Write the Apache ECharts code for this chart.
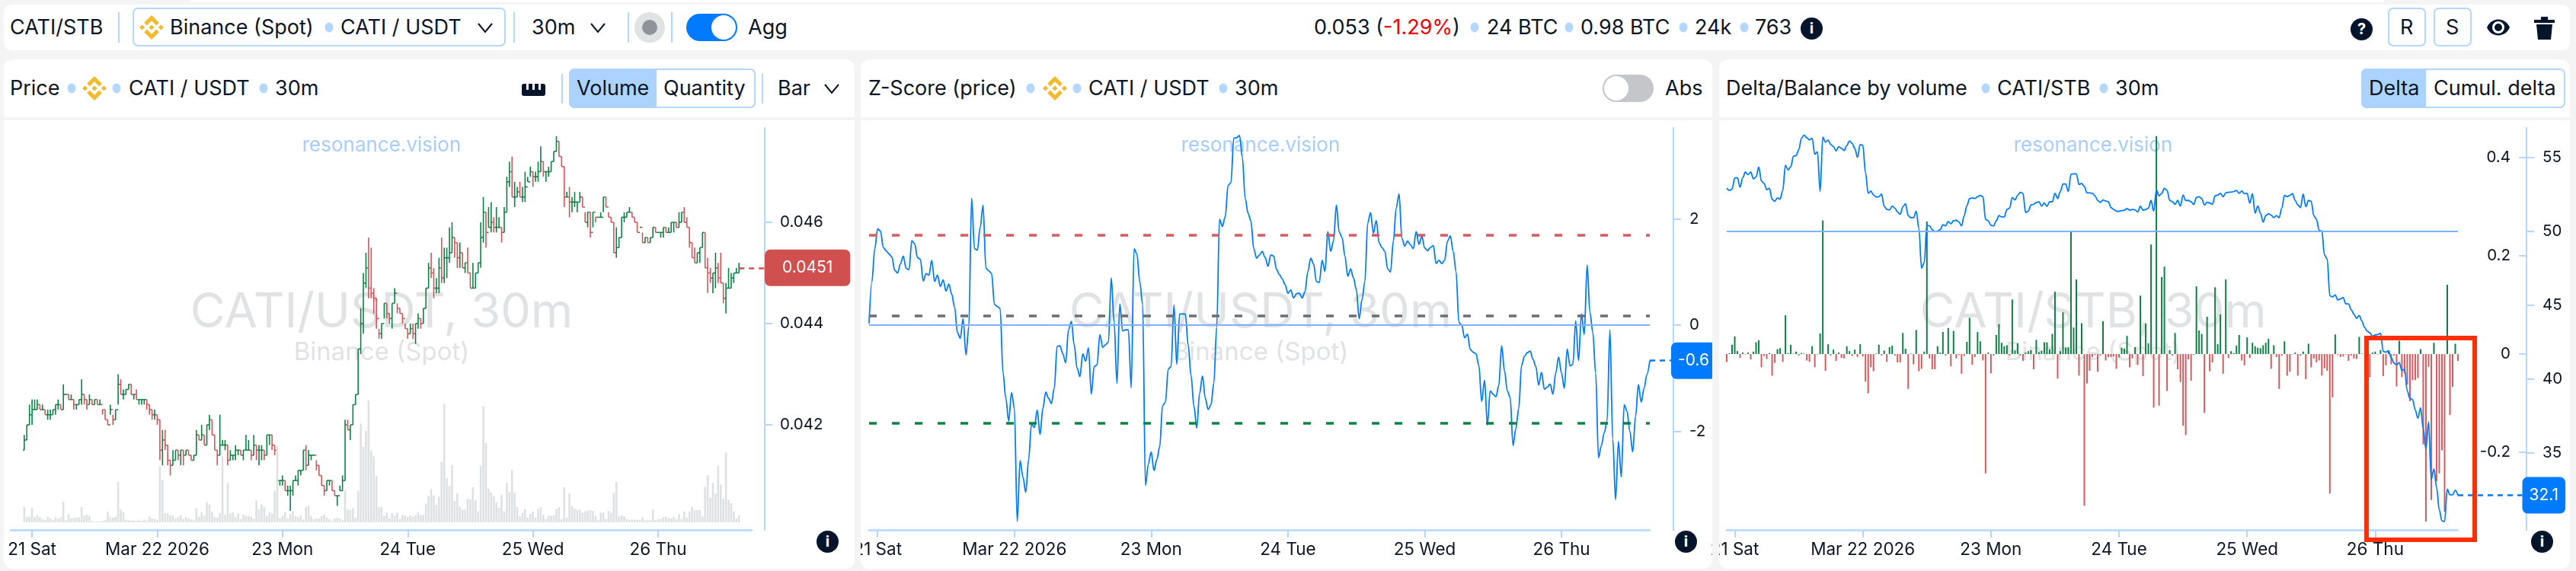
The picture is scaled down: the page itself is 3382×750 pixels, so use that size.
<!DOCTYPE html>
<html>
<head>
<meta charset="utf-8">
<title>CATI/STB</title>
<script src="https://cdn.jsdelivr.net/npm/echarts@6/dist/echarts.min.js"></script>
<style>
html, body { margin: 0; padding: 0; width: 3382px; height: 750px; overflow: hidden; background: #f4f4f5; font-family: Inter, sans-serif; color: #0c1524; }
.box { position: absolute; background: #fff; box-sizing: border-box; }
.t { position: absolute; font-size: 27px; line-height: 32px; white-space: nowrap; transform: translateY(-50%); }
.dot { position: absolute; width: 11px; height: 13px; border-radius: 50%; background: #b3d7ff; transform: translate(-50%, -50%); }
.sep { position: absolute; width: 2px; background: #b3d7ff; }
.ico { position: absolute; }
.round { position: absolute; border-radius: 50%; background: #04142b; color: #fff; font-weight: 700; font-size: 20px; text-align: center; }
#chart { position: absolute; left: 0; top: 0; width: 3382px; height: 750px; }
#mark { position: absolute; left: 3104px; top: 441px; width: 148px; height: 271px; border: 6px solid #ff2f00; box-sizing: border-box; }
</style>
</head>
<body>
<div id="chrome"></div>
<div id="chart"></div>
<div class="box" style="left:1122px;top:154px;width:8px;height:596px;background:#f4f4f5"></div>
<div class="box" style="left:2248px;top:154px;width:9px;height:596px;background:#f4f4f5"></div>
<div id="mark"></div>
<script>
// time axis, one point per 30m candle
var dayTicks = [3, 51, 99, 147, 195, 243]
var dayLabels = ['21 Sat', 'Mar 22 2026', '23 Mon', '24 Tue', '25 Wed', '26 Thu']

// price in 0.0001 units
var priceFirstOpen = 415
var priceHigh = [
  418,420,424,425,425,425,424,424,423,423, 423,423,424,425,424,428,426,426,426,425,
  424,425,429,426,425,426,425,425,425,425, 423,423,421,424,422,423,430,429,427,427,
  428,428,426,427,425,425,425,425,424,423, 423,422,421,419,419,416,413,415,415,415,
  415,415,415,415,414,414,419,418,420,418, 420,422,421,418,415,422,417,417,416,415,
  414,416,415,415,415,418,417,415,418,416, 416,416,415,418,418,418,416,415,409,410,
  409,408,408,409,410,411,411,415,416,415, 414,414,413,412,410,408,409,409,409,407,
  406,408,410,421,421,420,424,426,435,443, 450,454,457,455,447,445,439,440,444,444,
  442,444,447,444,443,442,440,439,440,440, 440,442,441,443,447,452,454,451,449,453,
  457,455,455,459,460,457,456,456,454,452, 455,450,452,450,452,460,465,462,463,464,
  461,463,461,459,463,469,472,473,468,467, 468,467,470,469,471,470,470,472,475,472,
  470,471,472,474,477,476,473,471,466,467, 465,466,464,466,465,462,462,462,462,461,
  461,462,465,465,462,461,460,459,457,461, 462,462,463,462,461,460,459,458,457,457,
  457,459,459,458,458,459,459,459,460,460, 460,462,462,463,461,459,456,455,454,455,
  458,458,453,451,450,454,452,454,448,448, 451,450,450,451,452]
var priceLow = [
  415,417,420,420,423,423,423,423,422,421, 421,422,422,423,423,423,426,425,425,423,
  423,424,424,424,423,424,424,424,424,424, 422,421,420,422,420,421,424,426,425,426,
  427,426,425,425,424,424,424,423,422,421, 421,420,413,412,415,412,410,412,413,413,
  412,412,414,414,413,413,414,417,417,416, 416,419,418,415,412,414,416,415,412,413,
  413,413,414,414,413,415,415,413,414,413, 412,413,413,414,416,415,414,401,408,408,
  407,406,403,406,409,408,410,411,411,412, 413,414,411,410,408,406,407,408,407,406,
  404,407,407,409,419,417,420,424,426,434, 438,447,445,445,442,439,437,437,441,441,
  440,439,444,442,442,440,439,437,438,437, 436,439,439,440,443,447,449,445,446,446,
  448,448,449,452,454,453,451,451,451,450, 450,447,447,447,450,451,456,455,459,458,
  458,458,459,456,458,462,467,465,463,465, 465,464,464,468,469,467,468,468,470,469,
  468,469,470,472,474,473,471,463,465,461, 462,463,462,464,463,460,459,457,459,460,
  461,461,462,463,461,460,454,453,455,457, 460,461,462,461,460,458,459,456,456,456,
  456,457,458,458,457,457,458,458,458,458, 459,459,460,460,459,455,453,452,452,452,
  455,451,446,448,446,447,448,448,444,442, 447,447,448,450,450]
var priceClose = [
  417,420,422,423,423,424,423,423,422,422, 422,423,424,424,423,426,426,425,425,424,
  424,425,426,425,424,425,424,425,424,424, 423,421,420,423,421,423,428,426,426,427,
  428,426,426,425,425,425,425,424,423,422, 422,421,415,417,416,413,412,413,415,414,
  415,414,415,414,413,414,418,417,418,416, 420,421,418,415,414,416,416,416,413,414,
  414,415,415,414,415,415,415,414,416,415, 415,415,414,418,418,416,415,409,409,409,
  407,407,407,409,409,411,411,415,412,414, 414,414,412,410,408,407,409,409,407,406,
  406,407,409,420,419,420,424,426,435,440, 448,451,447,446,445,441,438,440,444,442,
  441,444,446,443,442,441,439,438,439,438, 440,441,440,443,447,451,450,447,447,451,
  449,453,453,454,457,456,453,454,451,452, 450,447,447,450,452,457,462,458,459,460,
  459,459,459,458,462,468,470,465,465,466, 465,465,467,468,470,469,469,470,472,470,
  470,470,472,474,476,473,471,465,465,464, 464,464,464,465,463,460,462,458,462,461,
  461,461,465,463,461,460,454,455,457,461, 461,462,462,461,460,458,459,456,457,456,
  457,459,458,458,458,459,458,458,460,460, 459,460,462,460,459,456,453,452,454,455,
  458,451,450,449,450,451,449,448,445,447, 447,449,450,450,451]
var volume = [
  60,20,22,58,22,28,20,12,8,22, 15,8,20,15,20,80,8,32,15,18,
  18,20,60,26,30,25,5,3,3,3, 5,8,42,20,18,22,158,50,40,10,
  8,8,7,6,8,5,10,5,23,15, 14,8,222,167,35,35,27,27,15,20,
  28,12,20,15,12,8,55,22,40,28, 80,70,42,20,18,37,260,30,155,35,
  40,20,35,12,30,25,25,22,15,85, 50,70,60,25,40,35,125,300,15,25,
  40,15,32,42,25,20,28,10,60,65, 25,12,15,15,25,30,18,12,5,15,
  18,15,8,125,50,48,55,18,125,388, 298,360,480,283,260,183,60,60,26,38,
  15,36,28,38,13,28,26,20,26,22, 28,40,28,30,73,103,130,106,68,101,
  238,466,173,143,226,83,113,60,50,50, 93,90,138,86,43,223,456,313,133,118,
  103,78,58,108,43,156,120,206,116,60, 23,38,53,18,33,43,18,53,60,30,
  13,26,26,28,53,60,13,138,18,113, 63,53,48,50,38,43,45,48,45,26,
  8,38,38,13,45,38,116,160,23,28, 23,13,10,11,11,8,10,20,8,8,
  8,50,8,13,13,20,23,16,16,21, 13,33,13,43,18,43,61,48,48,48,
  23,140,186,98,155,113,223,148,93,275, 88,75,43,15,26]

var zScore = [
  0.03,0.82,1.44,1.81,1.77,1.46,1.40,1.34,1.28,1.03, 0.98,1.15,1.30,1.07,1.04,1.59,1.53,1.27,1.24,0.83,
  0.97,0.94,1.22,0.82,0.94,0.73,0.85,0.64,0.77,0.58, 0.34,-0.14,-0.25,0.12,-0.56,-0.04,2.39,1.44,1.41,1.84,
  2.26,1.07,1.02,0.97,0.39,0.35,0.31,-0.90,-1.38,-1.81, -1.27,-1.57,-3.70,-2.55,-2.86,-3.15,-2.53,-1.86,-1.93,-1.60,
  -2.06,-1.57,-1.26,-1.38,-1.48,-1.19,-0.40,-0.39,-0.54,-0.71, -0.09,0.07,-0.38,-0.81,-0.97,-0.54,-0.68,-0.43,-1.30,-0.78,
  -0.75,-0.18,-0.42,-0.37,-0.32,0.89,0.05,-1.10,0.40,-0.11, -0.09,-0.09,-1.18,1.44,1.34,0.82,0.39,-3.02,-2.62,-2.39,
  -2.74,-2.53,-2.29,-1.52,-1.45,-0.83,-0.78,0.38,-0.74,0.21, 0.21,0.21,-0.38,-0.95,-1.52,-1.94,-1.29,-0.96,-1.38,-1.59,
  -1.50,-1.09,-0.04,1.99,1.86,2.04,2.63,2.68,3.52,3.53, 3.57,3.16,2.39,2.11,1.96,1.44,1.26,1.32,1.39,1.27,
  1.11,1.32,1.30,1.05,0.95,0.87,0.76,0.60,0.66,0.51, 0.59,0.60,0.51,0.63,1.01,1.26,1.15,0.82,0.80,1.22,
  1.01,1.76,1.39,1.58,2.26,1.75,1.65,1.30,0.92,1.06, 0.89,0.67,0.12,0.48,0.82,1.92,2.12,1.73,1.97,1.55,
  1.46,1.39,1.06,1.00,1.58,2.20,2.47,1.63,1.49,1.58, 1.51,1.44,1.76,1.52,1.67,1.45,1.40,1.46,1.50,1.16,
  1.22,1.16,1.22,1.58,1.68,1.39,1.01,0.05,0.00,-0.24, -0.17,-0.46,-0.51,-0.54,-0.76,-1.44,-1.04,-1.88,-1.24,-1.30,
  -1.35,-1.14,-0.39,-0.86,-1.24,-1.36,-2.27,-1.95,-1.57,-0.76, -0.59,-0.52,-0.49,-0.64,-0.78,-1.13,-0.89,-1.21,-1.17,-1.11,
  -1.30,-0.90,-0.60,-0.90,-1.19,-0.45,-0.77,-0.74,0.08,-0.67, 0.21,-0.18,1.13,0.24,-0.14,-0.90,-2.50,-2.27,-2.03,-1.81,
  -0.09,-2.15,-3.29,-2.19,-2.86,-1.50,-1.62,-2.00,-2.39,-1.72, -1.12,-1.45,-1.19,-0.93,-0.67]
var zScoreLevels = { upper: 1.70, mean: 0.17, lower: -1.84 }

var balance = [
  52.92,52.78,52.87,53.61,53.64,52.99,53.64,54.02,53.85,54.02, 53.56,53.69,54.36,53.42,53.25,52.83,52.92,52.18,52.04,52.27,
  52.18,52.78,54.47,54.16,54.38,55.10,55.14,55.53,56.31,56.53, 56.34,56.19,56.31,55.22,55.39,52.70,56.39,56.05,56.19,55.88,
  55.74,55.45,55.74,55.62,55.48,55.82,56.13,55.96,55.62,55.02, 55.88,55.84,53.99,52.58,52.73,52.47,52.32,52.35,52.53,51.70,
  51.49,51.46,51.72,51.58,51.32,51.15,51.67,51.87,51.07,50.93, 50.93,51.37,50.21,47.51,47.89,50.41,50.38,50.12,49.98,50.03,
  50.12,50.46,50.38,50.67,50.52,50.72,50.76,50.64,50.38,51.07, 51.75,52.22,52.27,52.23,52.35,52.44,52.35,50.81,50.72,50.41,
  50.38,50.72,51.07,50.98,50.98,51.49,51.58,52.30,52.13,52.44, 52.65,52.58,51.27,51.37,51.79,51.84,51.96,52.01,51.72,51.92,
  51.70,52.01,52.01,52.58,52.23,52.70,53.21,53.21,52.70,53.87, 53.90,53.90,53.18,53.25,53.04,52.61,52.61,52.58,52.41,52.10,
  51.96,52.13,52.06,52.01,51.61,51.49,51.37,51.36,51.41,51.44, 51.55,51.44,51.49,51.46,51.32,51.70,51.44,51.49,51.58,52.10,
  51.37,52.82,52.41,52.58,52.92,52.78,52.10,52.01,51.84,52.10, 51.72,52.47,52.10,52.10,52.01,51.82,52.30,52.35,52.22,51.79,
  51.98,51.92,51.84,52.41,52.47,52.58,52.35,52.61,52.65,52.66, 52.70,52.78,52.58,52.73,52.56,52.58,51.92,52.56,51.24,51.72,
  51.24,50.64,51.07,51.20,51.10,50.94,51.07,50.93,51.58,52.44, 52.35,52.44,52.56,52.10,51.79,51.61,52.53,51.67,52.10,52.04,
  51.07,50.81,50.07,50.03,48.40,48.14,45.65,45.57,45.70,45.36, 45.43,45.52,45.09,45.09,44.71,44.40,44.11,44.31,43.94,43.51,
  43.25,43.13,42.90,42.99,43.02,43.11,41.87,41.82,41.92,41.44, 41.10,40.96,41.13,40.58,40.67,39.21,38.70,38.61,37.92,37.35,
  38.06,36.63,35.26,37.10,33.20,33.92,32.68,31.15,30.40,30.36, 32.55,32.17,32.17,32.48,32.13]
var delta = [
  -.016,.002,.019,.036,.006,-.008,.003,-.001,.003,-.011, .005,.024,.028,-.027,-.004,-.010,.002,-.044,-.018,.010,
  .012,-.016,.079,.002,.019,.001,.005,-.003,.002,.001, -.013,-.016,.016,-.027,-.001,.042,.272,-.034,.020,-.003,
  .009,-.014,.003,-.008,-.009,.016,.006,-.004,.009,-.006, .020,-.005,-.056,-.080,-.027,-.035,.001,.019,-.003,.007,
  -.016,.014,.017,-.003,-.017,-.017,.043,.011,-.071,.001, -.021,.049,-.035,-.030,.005,.270,-.009,-.031,-.031,.016,
  .003,.045,-.003,.053,-.025,.047,-.009,-.002,-.040,-.004, .025,.074,-.022,-.006,.045,.026,-.013,-.243,.003,-.039,
  -.003,.039,.061,.023,.016,.018,-.003,.111,.007,.022, -.003,-.014,.003,.006,.008,-.031,.029,.004,.007,.024,
  .024,.010,.041,.127,-.050,.006,.085,.013,.014,.249, .054,.152,-.044,.063,-.309,-.060,-.034,-.006,-.002,-.036,
  -.003,.067,-.013,-.006,-.006,-.005,-.030,-.007,.013,.011, .037,-.027,-.009,.014,-.022,.119,-.045,.062,.022,.223,
  -.109,.444,-.105,.157,.178,-.075,.008,-.003,.043,-.031, -.057,-.146,-.165,-.011,-.054,-.002,.138,.048,.041,-.120,
  .076,-.035,-.017,.136,.020,.081,-.040,.152,-.008,.006, .002,.017,.039,-.013,-.023,.034,-.008,.023,.016,.013,
  .012,.018,.023,.031,-.030,.018,-.006,-.071,-.003,.026, -.044,-.036,-.001,.003,-.044,-.003,.005,-.051,.021,-.027,
  -.009,-.017,-.013,-.044,-.029,-.034,-.284,-.088,.040,-.002, -.006,-.005,-.001,-.014,-.003,-.009,-.010,.035,.001,-.002,
  -.002,-.047,.003,.005,-.001,.008,-.045,-.023,.006,-.021, -.003,-.066,.027,-.047,-.039,-.062,-.096,-.053,-.053,-.049,
  .010,-.184,-.341,-.026,-.297,.023,-.259,-.243,-.196,-.321, .141,-.124,-.067,.021,-.014]

var priceTicks = [0.042, 0.044, 0.046]
var zTicks = [-2, 0, 2]
var deltaTicks = [-0.2, 0, 0.2, 0.4]
var balanceTicks = [35, 40, 45, 50, 55]

var GREEN = '#0a8245', RED = '#d2555a', BLUE = '#007aff', LINE = '#b3d7ff', INK = '#0c1524'

// ---- page furniture (toolbar and panel headers) ----
var html = ''
function box(x, y, w, h, extra) { html += '<div class="box" style="left:' + x + 'px;top:' + y + 'px;width:' + w + 'px;height:' + h + 'px;' + (extra || '') + '"></div>' }
function txt(x, y, s, extra) { html += '<div class="t" style="left:' + x + 'px;top:' + y + 'px;' + (extra || '') + '">' + s + '</div>' }
function dot(x, y) { html += '<div class="dot" style="left:' + x + 'px;top:' + y + 'px"></div>' }
function sep(x, y1, y2) { html += '<div class="sep" style="left:' + x + 'px;top:' + y1 + 'px;height:' + (y2 - y1) + 'px"></div>' }
function svg(x, y, w, h, vb, body) { html += '<svg class="ico" style="left:' + x + 'px;top:' + y + 'px" width="' + w + '" height="' + h + '" viewBox="' + vb + '">' + body + '</svg>' }
function chevron(x, y) { svg(x, y - 7, 20, 14, '0 0 20 14', '<path d="M1 1 L10 12 L19 1" fill="none" stroke="' + INK + '" stroke-width="2"/>') }
function binance(x, y) { svg(x, y - 16, 32, 32, '0 0 32 32', '<path fill="#f3ba2f" d="M9.8 13.4 16 7.2l6.2 6.2 3.6-3.6L16 0 6.2 9.8zM0 16l3.6-3.6L7.2 16l-3.6 3.6zM9.8 18.6 16 24.8l6.2-6.2 3.6 3.6L16 32l-9.8-9.8zM24.8 16l3.6-3.6L32 16l-3.6 3.6zM19.6 16 16 12.4 12.4 16l3.6 3.6z"/>') }
function round(x, y, s) { html += '<div class="round" style="left:' + x + 'px;top:' + y + 'px;width:29px;height:29px;line-height:29px">' + s + '</div>' }

box(250, 0, 2880, 3)
box(5, 6, 3369, 60, 'border-radius:10px')
box(5, 78, 1117, 76, 'border-radius:12px 12px 0 0')
box(5, 158, 1117, 589, 'border-radius:0 0 12px 12px')
box(1130, 78, 1118, 76, 'border-radius:12px 12px 0 0')
box(1130, 158, 1118, 589, 'border-radius:0 0 12px 12px')
box(2257, 78, 1117, 76, 'border-radius:12px 12px 0 0')
box(2257, 158, 1117, 589, 'border-radius:0 0 12px 12px')

// toolbar
txt(13, 36, 'CATI/STB')
sep(155, 16, 56)
box(174, 10, 490, 51, 'border:2.5px solid ' + LINE + ';border-radius:7px;background:none')
binance(183, 36)
txt(223, 36, 'Binance (Spot)')
dot(432, 36)
txt(447, 36, 'CATI / USDT')
chevron(627, 37)
sep(674, 16, 56)
txt(698, 36, '30m')
chevron(775, 37)
sep(824, 16, 56)
box(833, 16, 40, 40, 'border-radius:50%;background:#dfe3e1')
box(843, 26, 20, 20, 'border-radius:50%;background:#8e9299')
sep(881, 16, 56)
box(901, 18, 67, 36, 'border-radius:18px;background:' + BLUE)
box(934, 20, 32, 32, 'border-radius:50%;background:#fff')
txt(982, 36, 'Agg')
txt(1725, 36, '0.053 (<span style="color:#f00000">-1.29%</span>)')
dot(1936, 36)
txt(1952, 36, '24 BTC')
dot(2060, 36)
txt(2075, 36, '0.98 BTC')
dot(2210, 36)
txt(2225, 36, '24k')
dot(2290, 36)
txt(2304, 36, '763')
round(2364, 23, 'i')
round(3086, 24, '?')
box(3135, 10, 50, 51, 'border:2px solid ' + LINE + ';border-radius:7px')
txt(3151, 36, 'R')
box(3195, 10, 50, 51, 'border:2px solid ' + LINE + ';border-radius:7px')
txt(3211, 36, 'S')
svg(3265, 24, 30, 24, '0 0 30 24', '<path fill="#04142b" d="M0 12 C6 -2 24 -2 30 12 C24 26 6 26 0 12Z"/><circle cx="15" cy="12" r="6.5" fill="none" stroke="#fff" stroke-width="3"/>')
svg(3327, 21, 27, 31, '0 0 27 31', '<path fill="#04142b" d="M0 5h9V1h9v4h9v4H0zM3 11h21l-2 20H5z"/>')

// panel 1 header
txt(13, 116, 'Price')
dot(94, 116)
binance(108, 116)
dot(153, 116)
txt(169, 116, 'CATI / USDT')
dot(346, 116)
txt(361, 116, '30m')
svg(685, 110, 31, 16, '0 0 31 16', '<path fill="#04142b" d="M0 3q0-3 3-3h3v8h3V0h5v8h3V0h5v8h3V0h3q3 0 3 3v10q0 3-3 3H3q-3 0-3-3z"/>')
sep(737, 97, 136)
box(747, 90, 245, 52, 'border:2.5px solid ' + LINE + ';border-radius:7px')
box(747, 90, 115, 52, 'background:#acd3fe;border-radius:7px 0 0 7px')
txt(757, 116, 'Volume')
txt(871, 116, 'Quantity')
sep(1000, 97, 136)
txt(1021, 116, 'Bar')
chevron(1082, 117)

// panel 2 header
txt(1140, 116, 'Z-Score (price)')
dot(1353, 116)
binance(1369, 116)
dot(1414, 116)
txt(1429, 116, 'CATI / USDT')
dot(1606, 116)
txt(1621, 116, '30m')
box(2104, 98, 67, 36, 'border-radius:18px;background:#c4c6c9')
box(2106, 100, 32, 32, 'border-radius:50%;background:#fff')
txt(2186, 116, 'Abs')

// panel 3 header
txt(2266, 116, 'Delta/Balance by volume')
dot(2607, 116)
txt(2622, 116, 'CATI/STB')
dot(2762, 116)
txt(2777, 116, '30m')
box(3100, 90, 268, 52, 'border:2.5px solid ' + LINE + ';border-radius:7px')
box(3100, 90, 85, 52, 'background:#acd3fe;border-radius:7px 0 0 7px')
txt(3110, 116, 'Delta')
txt(3195, 116, 'Cumul. delta')

round(1072, 697, 'i')
round(2199, 697, 'i')
round(3323, 697, 'i')
document.getElementById('chrome').innerHTML = html

// ---- chart ----
var chart = echarts.init(document.getElementById('chart'), null, { renderer: 'canvas', width: 3382, height: 750 })

function xAxis(gridIndex, min, max) {
  return {
    type: 'value', gridIndex: gridIndex, min: min, max: max,
    splitLine: { show: false },
    axisLine: { onZero: false, lineStyle: { color: LINE, width: 2.5 } },
    axisTick: { length: 10, lineStyle: { color: LINE, width: 2 }, customValues: dayTicks },
    axisLabel: {
      customValues: dayTicks, margin: 15, color: INK, fontFamily: 'Inter', fontSize: 22.5, hideOverlap: false,
      formatter: function (v) { return dayLabels[dayTicks.indexOf(v)] }
    }
  }
}
function yAxis(gridIndex, min, max, offset, ticks, inside, margin) {
  return {
    type: 'value', gridIndex: gridIndex, position: 'right', offset: offset, min: min, max: max,
    splitLine: { show: false },
    axisLine: { show: true, onZero: false, lineStyle: { color: LINE, width: 2 } },
    axisTick: { show: true, inside: inside, length: 10, lineStyle: { color: LINE, width: 2 }, customValues: ticks },
    axisLabel: { inside: inside, customValues: ticks, margin: margin, color: INK, fontFamily: 'Inter', fontSize: 20.5 }
  }
}
function lastTag(value, text, color, endX, padX) {
  return {
    silent: true, symbol: 'none', animation: false,
    lineStyle: { color: color, type: [7, 6], width: 2.5 },
    label: {
      show: true, position: 'end', distance: 0, formatter: text, color: '#fff', fontFamily: 'Inter', fontSize: 21,
      backgroundColor: color, borderRadius: 7, padding: [14, padX], lineHeight: 20
    },
    data: [[{ coord: [274, value] }, { coord: [274, value], x: endX }]]
  }
}
function level(value, color) {
  return { yAxis: value, lineStyle: { color: color, type: [10, 20], width: 3.5 } }
}
function watermark(cx, main) {
  return [
    { type: 'text', x: cx, y: 191, style: { text: 'resonance.vision', fill: '#a6cdfd', font: '26px Inter', textAlign: 'center', textVerticalAlign: 'middle' } },
    { type: 'text', x: cx, y: 411, style: { text: main, fill: '#e1e2e4', font: '63px Inter', textAlign: 'center', textVerticalAlign: 'middle' } },
    { type: 'text', x: cx, y: 463, style: { text: 'Binance (Spot)', fill: '#e1e2e4', font: '33px Inter', textAlign: 'center', textVerticalAlign: 'middle' } }
  ]
}

var ohlc = priceClose.map(function (c, i) {
  return [i, i ? priceClose[i - 1] / 1e4 : priceFirstOpen / 1e4, c / 1e4, priceLow[i] / 1e4, priceHigh[i] / 1e4]
})
function renderBar(params, api) {
  var i = api.value(0), o = api.value(1), c = api.value(2), x = api.coord([i, o])[0]
  var yo = api.coord([i, o])[1], yc = api.coord([i, c])[1]
  var yl = api.coord([i, api.value(3)])[1], yh = api.coord([i, api.value(4)])[1]
  var stroke = { stroke: c < o ? RED : GREEN, lineWidth: 1.6 }
  return {
    type: 'group',
    children: [
      { type: 'line', shape: { x1: x, y1: yl, x2: x, y2: yh }, style: stroke },
      { type: 'line', shape: { x1: x - 1.8, y1: yo, x2: x, y2: yo }, style: stroke },
      { type: 'line', shape: { x1: x, y1: yc, x2: x + 1.8, y2: yc }, style: stroke }
    ]
  }
}

var idx = function (arr) { return arr.map(function (v, i) { return [i, v] }) }

chart.setOption({
  animation: false,
  backgroundColor: 'transparent',
  graphic: watermark(501, 'CATI/USDT, 30m').concat(watermark(1655, 'CATI/USDT, 30m'), watermark(2748, 'CATI/STB, 30m')),
  grid: [
    { left: 14, width: 973, top: 168, height: 528 },
    { left: 1141, width: 1025, top: 168, height: 528 },
    { left: 2267, width: 960, top: 168, height: 528 }
  ],
  xAxis: [xAxis(0, -5.2, 278.9), xAxis(1, 0, 274), xAxis(2, 0, 274)],
  yAxis: [
    yAxis(0, 0.039925, 0.047865, 17, priceTicks, false, 20),
    { type: 'value', gridIndex: 0, min: -30, max: 1554, show: false },
    yAxis(1, -3.857, 3.713, 31, zTicks, false, 21),
    yAxis(2, -0.358, 0.4605, 90, deltaTicks, true, 21),
    yAxis(2, 29.79, 57.01, 90, balanceTicks, false, 21)
  ],
  series: [
    { name: 'Volume', type: 'bar', xAxisIndex: 0, yAxisIndex: 1, data: idx(volume), barWidth: 2.6, itemStyle: { color: '#dfe0e2' }, silent: true },
    { name: 'Price', type: 'custom', xAxisIndex: 0, yAxisIndex: 0, data: ohlc, renderItem: renderBar, encode: { x: 0, y: [1, 2, 3, 4] }, silent: true, clip: false },
    {
      name: 'Last price', type: 'line', xAxisIndex: 0, yAxisIndex: 0, data: [[274, priceClose[274] / 1e4]], showSymbol: false, silent: true,
      markLine: lastTag(priceClose[274] / 1e4, (priceClose[274] / 1e4).toFixed(4), '#d05050', 1004, 23)
    },
    {
      name: 'Z-Score', type: 'line', xAxisIndex: 1, yAxisIndex: 2, data: idx(zScore), showSymbol: false, silent: true, clip: false,
      smooth: 0.35, smoothMonotone: 'x', lineStyle: { color: BLUE, width: 1.8 },
      markLine: {
        silent: true, symbol: 'none', animation: false, label: { show: false },
        data: [level(zScoreLevels.upper, '#d65a5e'), level(zScoreLevels.mean, '#6b6e76'), level(zScoreLevels.lower, '#0a8245'),
          { yAxis: 0, lineStyle: { color: '#7db1fb', type: 'solid', width: 2 } }]
      },
      z: 3
    },
    {
      name: 'Last z', type: 'line', xAxisIndex: 1, yAxisIndex: 2, data: [[274, zScore[274]]], showSymbol: false, silent: true,
      markLine: lastTag(zScore[274], '-0.6', BLUE, 2194, 9)
    },
    {
      name: 'Delta', type: 'bar', xAxisIndex: 2, yAxisIndex: 3, barWidth: 2, silent: true,
      data: delta.map(function (v, i) { return { value: [i, v], itemStyle: { color: v < 0 ? '#d65a5e' : GREEN } } })
    },
    {
      name: 'Balance', type: 'line', xAxisIndex: 2, yAxisIndex: 4, data: idx(balance), showSymbol: false, silent: true, clip: false,
      smooth: 0.35, smoothMonotone: 'x', lineStyle: { color: BLUE, width: 1.8 }, z: 3,
      markLine: {
        silent: true, symbol: 'none', animation: false, label: { show: false },
        data: [{ yAxis: 50, lineStyle: { color: '#7db1fb', type: 'solid', width: 2 } }]
      }
    },
    {
      name: 'Last balance', type: 'line', xAxisIndex: 2, yAxisIndex: 4, data: [[274, balance[274]]], showSymbol: false, silent: true,
      markLine: lastTag(balance[274], '32.1', BLUE, 3311.5, 9)
    }
  ]
})
</script>
</body>
</html>
